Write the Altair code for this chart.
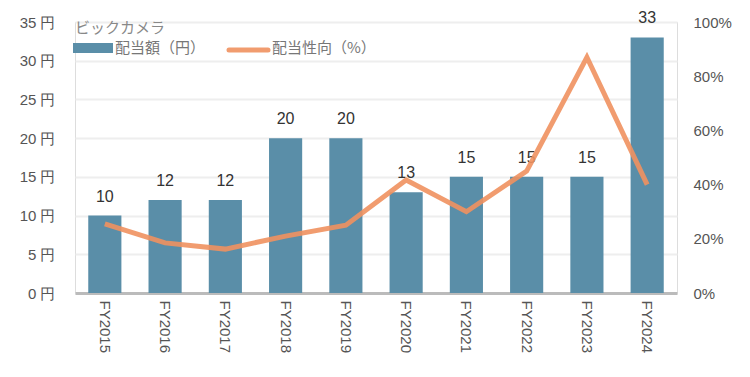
import altair as alt
import pandas as pd

years = ["FY2015", "FY2016", "FY2017", "FY2018", "FY2019", "FY2020", "FY2021", "FY2022", "FY2023", "FY2024"]
dividend = [10, 12, 12, 20, 20, 13, 15, 15, 15, 33]
payout = [0.255, 0.185, 0.162, 0.21, 0.25, 0.417, 0.30, 0.45, 0.87, 0.40]
yen_ticks = [0, 5, 10, 15, 20, 25, 30, 35]
pct_ticks = [0, 0.2, 0.4, 0.6, 0.8, 1.0]

df = pd.DataFrame({"year": years, "dividend": dividend, "payout": payout})

FONT = "Liberation Sans"
JFONT = "Noto Sans CJK JP"
BAR = "#5a8ea8"
LINE = "#f0915f"

x = alt.X("year:N", title=None, sort=years,
          scale=alt.Scale(paddingInner=0.45, paddingOuter=0.22),
          axis=alt.Axis(labelAngle=90, labelAlign="left", labelBaseline="middle",
                        labelFontSize=15, labelColor="#555", labelFont=FONT,
                        labelPadding=7, ticks=False, domainColor="#bbbbbb",
                        domainWidth=3, grid=False))

yaxis = alt.Axis(values=yen_ticks, labelOverlap=False,
                 labelExpr="datum.value + ' 円'",
                 labelFontSize=15, labelColor="#555", labelFont=FONT,
                 labelPadding=20, ticks=False, domain=False,
                 grid=True, gridColor="#eeeeee", gridWidth=2)
yscale = alt.Scale(domain=[0, 35], nice=False)

base = alt.Chart(df)

bars = base.mark_bar(color=BAR).encode(
    x=x,
    y=alt.Y("dividend:Q", title=None, scale=yscale, axis=yaxis),
)

labels = base.mark_text(baseline="bottom", dy=-11, fontSize=16, color="#333", font=FONT).encode(
    x=alt.X("year:N", sort=years),
    y=alt.Y("dividend:Q", title=None, scale=yscale, axis=yaxis),
    text="dividend:Q",
)

left = alt.layer(bars, labels)

line = base.mark_line(color=LINE, strokeWidth=5, opacity=0.9).encode(
    x=alt.X("year:N", sort=years),
    y=alt.Y("payout:Q", title=None,
            scale=alt.Scale(domain=[0, 1], nice=False),
            axis=alt.Axis(orient="right", values=pct_ticks, format=".0%", labelOverlap=False,
                          labelFontSize=15, labelColor="#555", labelFont=FONT,
                          labelPadding=16, ticks=False, domain=False, grid=False)),
)

title = alt.Chart(pd.DataFrame({"t": ["ビックカメラ"]})).mark_text(
    align="left", baseline="middle", fontSize=15, color="#888", font=JFONT
).encode(x=alt.value(0), y=alt.value(6), text="t:N")

leg_rect = alt.Chart(pd.DataFrame({"a": [0]})).mark_rect(color=BAR).encode(
    x=alt.value(-2), x2=alt.value(38), y=alt.value(21), y2=alt.value(31))
leg_t1 = alt.Chart(pd.DataFrame({"t": ["配当額（円）"]})).mark_text(
    align="left", baseline="middle", fontSize=15, color="#777", font=JFONT
).encode(x=alt.value(40), y=alt.value(26), text="t:N")
leg_line = alt.Chart(pd.DataFrame({"a": [0]})).mark_rule(color=LINE, strokeWidth=5, strokeCap="round", opacity=0.9).encode(
    x=alt.value(154), x2=alt.value(193), y=alt.value(28))
leg_t2 = alt.Chart(pd.DataFrame({"t": ["配当性向（%）"]})).mark_text(
    align="left", baseline="middle", fontSize=15, color="#777", font=JFONT
).encode(x=alt.value(197), y=alt.value(26), text="t:N")

chart = alt.layer(left, line, title, leg_rect, leg_t1, leg_line, leg_t2).resolve_scale(
    y="independent"
).properties(
    width=602, height=271,
    autosize=alt.AutoSizeParams(type="none"),
    padding={"left": 67, "top": 14, "right": 60, "bottom": 60},
).configure_view(stroke=None).configure(background="white")

chart.save("out.html", embed_options={"renderer": "svg", "actions": False})
